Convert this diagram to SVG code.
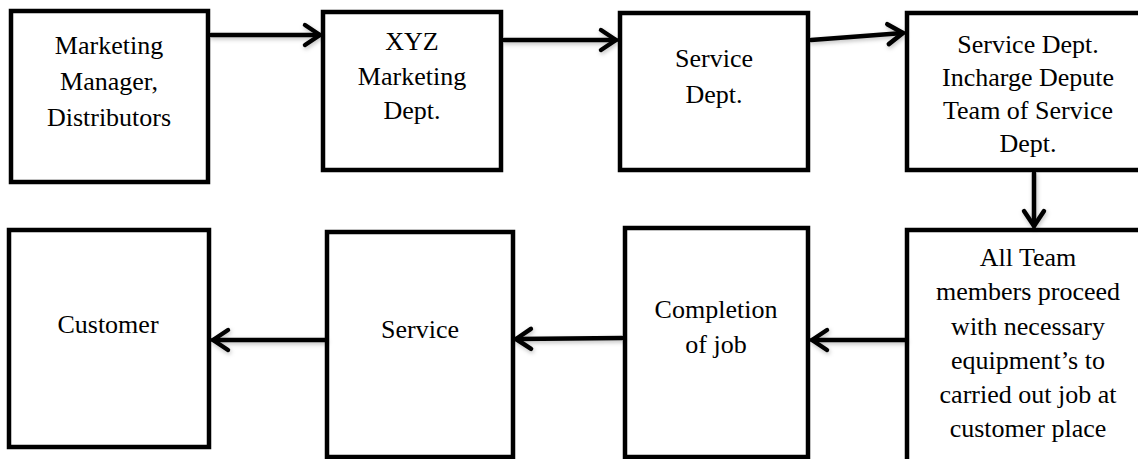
<svg xmlns="http://www.w3.org/2000/svg" width="1138" height="459" viewBox="0 0 1138 459">
  <style>
    .box { fill: #ffffff; stroke: #000000; stroke-width: 4.5; }
    .lbl { font-family: 'Liberation Serif', 'DejaVu Serif', serif; font-size: 26px; fill: #000000; text-anchor: middle; }
    .conn { fill: none; stroke: #000000; stroke-width: 4.5; stroke-linecap: round; }
  </style>
  <defs>
    <marker id="arrow" markerUnits="userSpaceOnUse" markerWidth="30" markerHeight="30" viewBox="-20 -15 30 30" refX="0" refY="0" orient="auto">
      <path d="M -15,-10 L 0,0 L -15,10" fill="none" stroke="#000000" stroke-width="4.5" stroke-linecap="round" stroke-linejoin="round"/>
    </marker>
    <filter id="soft" x="-10%" y="-50%" width="120%" height="200%">
      <feDropShadow dx="1" dy="2" stdDeviation="2" flood-color="#000000" flood-opacity="0.25"/>
    </filter>
  </defs>

  <!-- top row -->
  <g id="node-marketing-manager">
    <rect class="box" x="11" y="11" width="197" height="171"/>
    <text class="lbl" font-family="Liberation Serif, serif" x="109" y="54">Marketing</text>
    <text class="lbl" font-family="Liberation Serif, serif" x="109" y="90">Manager,</text>
    <text class="lbl" font-family="Liberation Serif, serif" x="109" y="126">Distributors</text>
  </g>
  <g id="node-xyz-marketing">
    <rect class="box" x="323" y="12" width="178" height="158"/>
    <text class="lbl" x="412" y="50">XYZ</text>
    <text class="lbl" x="412" y="85">Marketing</text>
    <text class="lbl" x="412" y="119">Dept.</text>
  </g>
  <g id="node-service-dept">
    <rect class="box" x="620" y="13" width="188" height="157"/>
    <text class="lbl" x="714" y="67">Service</text>
    <text class="lbl" x="714" y="103">Dept.</text>
  </g>
  <g id="node-service-incharge">
    <rect class="box" x="907" y="13" width="260" height="157"/>
    <text class="lbl" x="1028" y="53">Service Dept.</text>
    <text class="lbl" x="1028" y="86">Incharge Depute</text>
    <text class="lbl" x="1028" y="119">Team of Service</text>
    <text class="lbl" x="1028" y="152">Dept.</text>
  </g>

  <!-- bottom row -->
  <g id="node-team-proceed">
    <rect class="box" x="907" y="230" width="260" height="260"/>
    <text class="lbl" x="1028" y="266">All Team</text>
    <text class="lbl" x="1028" y="300">members proceed</text>
    <text class="lbl" x="1028" y="335">with necessary</text>
    <text class="lbl" x="1028" y="369">equipment’s to</text>
    <text class="lbl" x="1028" y="403">carried out job at</text>
    <text class="lbl" x="1028" y="437">customer place</text>
  </g>
  <g id="node-completion">
    <rect class="box" x="625" y="228" width="183" height="229"/>
    <text class="lbl" x="716" y="318">Completion</text>
    <text class="lbl" x="716" y="353">of job</text>
  </g>
  <g id="node-service">
    <rect class="box" x="327" y="232" width="186" height="225"/>
    <text class="lbl" x="420" y="338">Service</text>
  </g>
  <g id="node-customer">
    <rect class="box" x="9" y="230" width="200" height="217"/>
    <text class="lbl" x="108" y="333">Customer</text>
  </g>

  <!-- connectors -->
  <g id="connectors" filter="url(#soft)">
    <line class="conn" x1="211" y1="35" x2="320" y2="35" marker-end="url(#arrow)"/>
    <line class="conn" x1="504" y1="40" x2="616" y2="40" marker-end="url(#arrow)"/>
    <line class="conn" x1="811" y1="40" x2="903" y2="33" marker-end="url(#arrow)"/>
    <line class="conn" x1="1034" y1="173" x2="1034" y2="226" marker-end="url(#arrow)"/>
    <line class="conn" x1="905" y1="340" x2="812" y2="340" marker-end="url(#arrow)"/>
    <line class="conn" x1="622" y1="338" x2="516" y2="339" marker-end="url(#arrow)"/>
    <line class="conn" x1="325" y1="340" x2="213" y2="340" marker-end="url(#arrow)"/>
  </g>
</svg>
